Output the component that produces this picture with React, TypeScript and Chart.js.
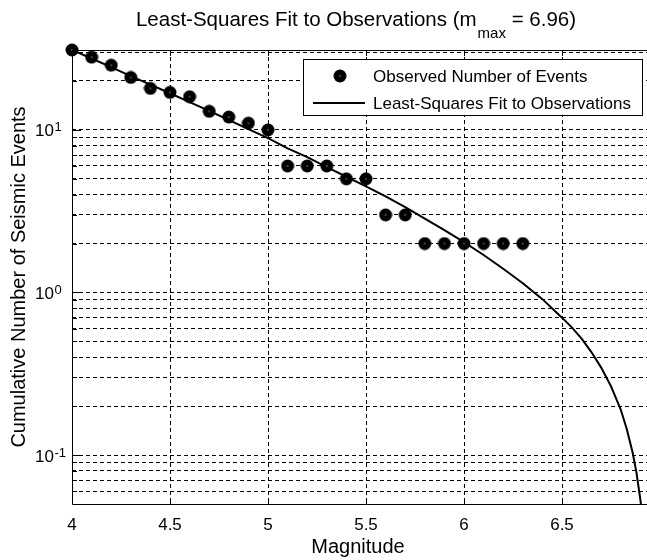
import React, { useEffect, useRef } from "react";
import { Chart, registerables } from "chart.js";

Chart.register(...registerables);

// ---- data ----
const observedMagnitudes = [4.0, 4.1, 4.2, 4.3, 4.4, 4.5, 4.6, 4.7, 4.8, 4.9, 5.0, 5.1, 5.2, 5.3, 5.4, 5.5, 5.6, 5.7, 5.8, 5.9, 6.0, 6.1, 6.2, 6.3];
const observedCounts = [31, 28, 25, 21, 18, 17, 16, 13, 12, 11, 10, 6, 6, 6, 5, 5, 3, 3, 2, 2, 2, 2, 2, 2];

const fitMagnitudes = [4.0, 4.1, 4.2, 4.3, 4.4, 4.5, 4.6, 4.7, 4.8, 4.9, 5.0, 5.1, 5.2, 5.3, 5.4, 5.5, 5.6, 5.7, 5.8, 5.9, 6.0, 6.1, 6.2, 6.3, 6.4, 6.5, 6.55, 6.6, 6.65, 6.7, 6.75, 6.8, 6.83, 6.86, 6.88, 6.9, 6.91, 6.92];
const fitCounts = [31, 27.5, 24.3, 21.4, 19.0, 16.8, 14.8, 13.1, 11.5, 10.1, 8.9, 7.7, 6.8, 5.9, 5.15, 4.5, 3.9, 3.35, 2.85, 2.42, 2.04, 1.7, 1.4, 1.14, 0.91, 0.7, 0.61, 0.52, 0.43, 0.345, 0.265, 0.19, 0.145, 0.104, 0.078, 0.053, 0.042, 0.03];

const xTickValues = [4, 4.5, 5, 5.5, 6, 6.5, 7];
const xTickLabels = ["4", "4.5", "5", "5.5", "6", "6.5", "7"];
const yGridValues = [0.06, 0.07, 0.08, 0.09, 0.1, 0.2, 0.3, 0.4, 0.5, 0.6, 0.7, 0.8, 0.9, 1, 2, 3, 4, 5, 6, 7, 8, 9, 10, 20, 30];
const yMajorValues = [0.1, 1, 10];
const yMajorExponents = ["-1", "0", "1"];

const titleMain = "Least-Squares Fit to Observations (m";
const titleSub = "max";
const titleEnd = " = 6.96)";
const xAxisTitle = "Magnitude";
const yAxisTitle = "Cumulative Number of Seismic Events";
const legendLabels = ["Observed Number of Events", "Least-Squares Fit to Observations"];

const FONT = "'Liberation Sans', Arial, Helvetica, sans-serif";

function makeMarker(): HTMLCanvasElement {
  const c = document.createElement("canvas");
  c.width = 14;
  c.height = 14;
  const g = c.getContext("2d")!;
  g.fillStyle = "#000";
  g.beginPath();
  g.arc(7, 7, 6.5, 0, Math.PI * 2);
  g.fill();
  g.fillStyle = "#fff";
  g.fillRect(6.5, 6.5, 1, 1);
  return c;
}

export default function App() {
  const ref = useRef<HTMLCanvasElement | null>(null);

  useEffect(() => {
    if (!ref.current) return;
    const marker = makeMarker();

    const decor = {
      id: "matlabDecor",
      afterDraw(chart: any) {
        const ctx = chart.ctx as CanvasRenderingContext2D;
        const { left, right, top, bottom } = chart.chartArea;
        const xs = chart.scales.x;
        const ys = chart.scales.y;
        ctx.save();
        ctx.strokeStyle = "#000";
        ctx.fillStyle = "#000";
        ctx.lineWidth = 1;
        ctx.setLineDash([]);

        // axes box
        ctx.beginPath();
        ctx.moveTo(Math.round(left) + 0.5, Math.round(top) + 0.5);
        ctx.lineTo(Math.round(right) + 0.5, Math.round(top) + 0.5);
        ctx.lineTo(Math.round(right) + 0.5, Math.round(bottom) + 0.5);
        ctx.lineTo(Math.round(left) + 0.5, Math.round(bottom) + 0.5);
        ctx.closePath();
        ctx.stroke();

        // inward x ticks (top and bottom)
        ctx.beginPath();
        xTickValues.forEach((v) => {
          const px = Math.round(xs.getPixelForValue(v)) + 0.5;
          ctx.moveTo(px, Math.round(bottom));
          ctx.lineTo(px, Math.round(bottom) - 6);
          ctx.moveTo(px, Math.round(top));
          ctx.lineTo(px, Math.round(top) + 6);
        });
        // inward y ticks (left)
        yGridValues.forEach((v) => {
          const py = Math.round(ys.getPixelForValue(v)) + 0.5;
          const len = yMajorValues.includes(v) ? 9 : 5;
          ctx.moveTo(Math.round(left), py);
          ctx.lineTo(Math.round(left) + len, py);
        });
        ctx.stroke();

        // x tick labels
        ctx.font = `17px ${FONT}`;
        ctx.textAlign = "center";
        ctx.textBaseline = "alphabetic";
        xTickValues.forEach((v, i) => {
          const px = xs.getPixelForValue(v);
          ctx.fillText(xTickLabels[i], px, 530);
        });

        // y tick labels 10^k
        yMajorValues.forEach((v, i) => {
          const py = ys.getPixelForValue(v);
          ctx.font = `17px ${FONT}`;
          ctx.textAlign = "right";
          ctx.fillText("10", 54, py + 6.5);
          ctx.font = `13px ${FONT}`;
          ctx.textAlign = "left";
          ctx.fillText(yMajorExponents[i], 54.5, py + 1.5);
        });

        // x axis title
        ctx.font = `20px ${FONT}`;
        ctx.textAlign = "center";
        ctx.fillText(xAxisTitle, 358, 553);

        // y axis title
        ctx.save();
        ctx.translate(25, 277);
        ctx.rotate(-Math.PI / 2);
        ctx.textAlign = "center";
        ctx.fillText(yAxisTitle, 0, 0);
        ctx.restore();

        // title with subscript
        const mainFont = `20.5px ${FONT}`;
        const subFont = `15px ${FONT}`;
        ctx.font = mainFont;
        const w1 = ctx.measureText(titleMain).width;
        const w3 = ctx.measureText(titleEnd).width;
        ctx.font = subFont;
        const w2 = ctx.measureText(titleSub).width;
        const total = w1 + w2 + w3 + 1;
        let tx = 356 - total / 2;
        ctx.textAlign = "left";
        ctx.font = mainFont;
        ctx.fillText(titleMain, tx, 26);
        tx += w1 + 1;
        ctx.font = subFont;
        ctx.fillText(titleSub, tx, 38);
        tx += w2;
        ctx.font = mainFont;
        ctx.fillText(titleEnd, tx, 26);

        // legend
        const lx = 303, ly = 59, lw = 339, lh = 56;
        ctx.fillStyle = "#fff";
        ctx.fillRect(lx, ly, lw, lh);
        ctx.strokeStyle = "#000";
        ctx.lineWidth = 1;
        ctx.strokeRect(lx + 0.5, ly + 0.5, lw, lh);
        ctx.drawImage(marker, 340 - 7, 76 - 7);
        ctx.lineWidth = 2;
        ctx.beginPath();
        ctx.moveTo(313, 103);
        ctx.lineTo(365, 103);
        ctx.stroke();
        ctx.fillStyle = "#000";
        ctx.font = `17px ${FONT}`;
        ctx.textAlign = "left";
        ctx.textBaseline = "middle";
        ctx.fillText(legendLabels[0], 373, 77);
        ctx.fillText(legendLabels[1], 373, 104);
        ctx.restore();
      },
    };

    const chart = new Chart(ref.current, {
      type: "scatter",
      data: {
        datasets: [
          {
            type: "scatter",
            label: legendLabels[0],
            data: observedMagnitudes.map((m, i) => ({ x: m, y: observedCounts[i] })),
            pointStyle: marker as any,
            pointRadius: 7,
            backgroundColor: "#000",
            borderColor: "#000",
            clip: false as any,
          },
          {
            type: "line",
            label: legendLabels[1],
            data: fitMagnitudes.map((m, i) => ({ x: m, y: fitCounts[i] })),
            borderColor: "#000",
            borderWidth: 2,
            pointRadius: 0,
            fill: false,
            tension: 0,
          },
        ],
      },
      options: {
        responsive: false,
        animation: false,
        devicePixelRatio: 1,
        events: [],
        layout: { padding: { top: 50, left: 0, right: 10, bottom: 0 } },
        plugins: {
          legend: { display: false },
          title: { display: false },
          tooltip: { enabled: false },
        },
        scales: {
          x: {
            type: "linear",
            min: 4,
            max: 7,
            afterBuildTicks: (s: any) => {
              s.ticks = xTickValues.map((v) => ({ value: v }));
            },
            afterFit: (s: any) => {
              s.height = 56;
            },
            ticks: { display: false },
            grid: { color: "#000", lineWidth: 1, drawTicks: false },
            border: { display: false, dash: [4, 3] },
          },
          y: {
            type: "logarithmic",
            min: 0.05,
            max: 31,
            afterBuildTicks: (s: any) => {
              s.ticks = yGridValues.map((v) => ({ value: v }));
            },
            afterFit: (s: any) => {
              s.width = 72;
            },
            ticks: { display: false },
            grid: { color: "#000", lineWidth: 1, drawTicks: false },
            border: { display: false, dash: [4, 3] },
          },
        },
      },
      plugins: [decor],
    });

    return () => chart.destroy();
  }, []);

  return (
    <div
      style={{
        position: "fixed",
        left: 0,
        top: 0,
        width: 647,
        height: 560,
        overflow: "hidden",
        background: "#fff",
      }}
    >
      <canvas ref={ref} width={670} height={560} style={{ display: "block" }} />
    </div>
  );
}
